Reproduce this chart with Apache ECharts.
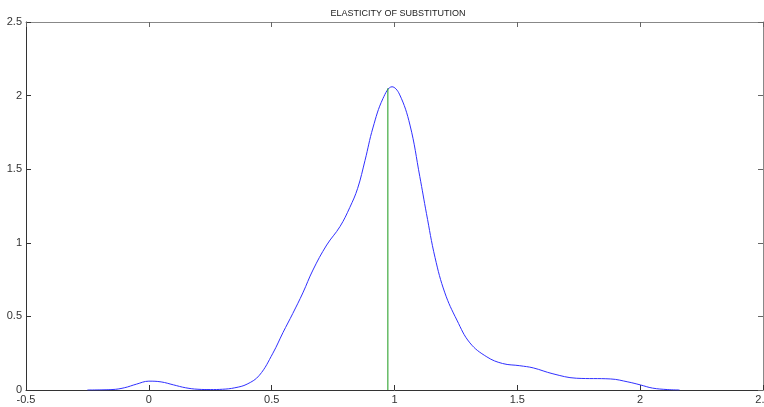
<!DOCTYPE html>
<html>
<head>
<meta charset="utf-8">
<script src="https://cdn.jsdelivr.net/npm/echarts@6/dist/echarts.min.js"></script>
<style>html,body{margin:0;padding:0;background:#fff}#c{width:764px;height:407px}</style>
</head>
<body>
<div id="c"></div>
<script>
const titleText = 'ELASTICITY OF SUBSTITUTION';
const densityX = [-0.25,-0.15,-0.1,-0.05,0,0.05,0.1,0.15,0.2,0.25,0.3,0.35,0.4,0.45,0.505,0.546,0.586,0.627,0.668,0.724,0.778,0.818,0.85,0.88,0.912,0.953,0.99,1.02,1.063,1.103,1.13,1.165,1.205,1.254,1.307,1.376,1.44,1.51,1.565,1.645,1.74,1.88,1.95,2.0,2.05,2.11,2.16];
const densityY = [0,0.003,0.015,0.04,0.06,0.055,0.035,0.015,0.005,0.003,0.005,0.015,0.04,0.1,0.25,0.39,0.52,0.66,0.815,0.985,1.11,1.24,1.37,1.56,1.78,1.98,2.06,2.01,1.8,1.45,1.2,0.9,0.66,0.475,0.32,0.225,0.18,0.165,0.15,0.11,0.08,0.075,0.055,0.035,0.013,0.003,0];
const markerX = [0.973, 0.973];
const markerY = [0, 2.05];

const chart = echarts.init(document.getElementById('c'), null, {renderer:'canvas'});
const axisFont = {color:'#333', fontSize:11, fontFamily:'Liberation Sans, Arial, sans-serif'};
chart.setOption({
  animation:false,
  title:{text:titleText,left:393,top:4,textAlign:'center',textStyle:{fontSize:9,fontWeight:'normal',color:'#222',fontFamily:'Liberation Sans, Arial, sans-serif'}},
  grid:{left:26,right:1,top:22,bottom:17,containLabel:false,outerBoundsMode:'none'},
  xAxis:[
    {type:'value',min:-0.5,max:2.5,interval:0.5,position:'bottom',
     axisLine:{show:true,onZero:false,lineStyle:{color:'#333',width:1}},
     axisTick:{show:true,inside:true,length:5,lineStyle:{color:'#333'}},
     axisLabel:{...axisFont,margin:4,formatter:v=>String(v)},
     splitLine:{show:false}},
    {type:'value',min:-0.5,max:2.5,interval:0.5,position:'top',
     axisLine:{show:true,onZero:false,lineStyle:{color:'#888',width:1}},
     axisTick:{show:true,inside:true,length:5,lineStyle:{color:'#666'}},
     axisLabel:{show:false},splitLine:{show:false}}
  ],
  yAxis:[
    {type:'value',min:0,max:2.5,interval:0.5,position:'left',
     axisLine:{show:true,onZero:false,lineStyle:{color:'#333',width:1}},
     axisTick:{show:true,inside:true,length:5,lineStyle:{color:'#333'}},
     axisLabel:{...axisFont,margin:4,formatter:v=>String(v)},
     splitLine:{show:false}},
    {type:'value',min:0,max:2.5,interval:0.5,position:'right',
     axisLine:{show:true,onZero:false,lineStyle:{color:'#888',width:1}},
     axisTick:{show:true,inside:true,length:5,lineStyle:{color:'#666'}},
     axisLabel:{show:false},splitLine:{show:false}}
  ],
  series:[
    {type:'line',xAxisIndex:0,yAxisIndex:0,smooth:0.4,showSymbol:false,symbol:'none',
     data:densityX.map((x,i)=>[x,densityY[i]]),
     lineStyle:{color:'#3030ff',width:1}},
    {type:'line',xAxisIndex:0,yAxisIndex:0,showSymbol:false,symbol:'none',
     data:markerX.map((x,i)=>[x,markerY[i]]),
     lineStyle:{color:'#1a9a1a',width:1}}
  ]
});
</script>
</body>
</html>
